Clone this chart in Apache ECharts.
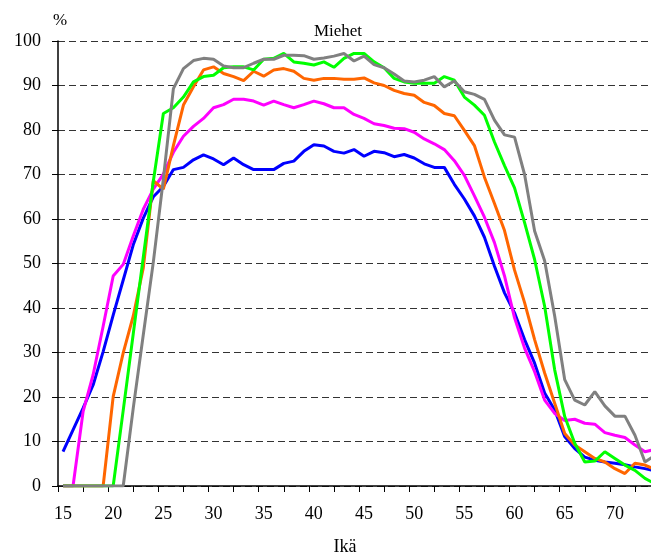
<!DOCTYPE html>
<html>
<head>
<meta charset="utf-8">
<script src="https://cdn.jsdelivr.net/npm/echarts@6/dist/echarts.min.js"></script>
<style>
html,body{margin:0;padding:0;background:#fff;}
#chart{width:651px;height:552px;}
</style>
</head>
<body>
<div id="chart"></div>
<script>
var ages = [];
for (var a = 15; a <= 74; a++) ages.push(a);

var xTickValues = [14.5,17,19.5,22,24.5,27,29.5,32,34.5,37,39.5,42,44.5,47,49.5,52,54.5,57,59.5,62,64.5,67,69.5,72];
var xLabelValues = [15,20,25,30,35,40,45,50,55,60,65,70];

var blue = [7.7,12.6,17.5,22.7,30.2,38.4,46.3,54.2,60.2,65,67.3,71.1,71.6,73.3,74.4,73.5,72.2,73.7,72.2,71.1,71.1,71.1,72.5,73,75.2,76.7,76.4,75.2,74.8,75.6,74.1,75.2,74.9,74,74.5,73.7,72.4,71.6,71.6,67.8,64.5,60.7,55.9,49.4,43.4,38.9,32.9,27.6,20.9,17.1,11.1,8.4,6.5,5.8,5.4,5.1,4.8,4.3,3.9,3.4];
var magenta = [0,0,16.7,25,35.9,47.2,49.8,56.2,62.2,66.7,70.1,75,78.6,80.8,82.6,85,85.7,86.9,86.9,86.5,85.6,86.5,85.7,85,85.7,86.5,85.9,85,85,83.5,82.6,81.4,81,80.4,80.3,79.5,78,76.9,75.6,73.1,69.8,65.2,60.4,54.7,47.2,37.8,31,25.7,19.3,16.3,14.7,15,14.1,13.9,12,11.4,10.9,9.2,7.7,8.2];
var orange = [0,0,0,0,0,20.1,29.9,38.2,49,68.6,66.7,76.5,85.6,89.7,93.5,94.2,92.7,92,91.1,93.2,92.1,93.5,93.8,93.2,91.6,91.2,91.6,91.6,91.4,91.4,91.7,90.6,90,88.9,88.2,87.8,86.2,85.5,83.7,83.2,79.9,76.5,69.4,63.5,57.4,48.5,41.2,32.9,25.4,18.6,11.8,9.2,7.7,6.2,5.4,3.9,2.8,5.1,4.7,3.7];
var green = [0,0,0,0,0,0,17,34.2,51.4,68.5,83.7,85,87.4,90.8,92,92.3,94,94.2,94.2,93.5,95.9,96.1,97.2,95.3,95,94.6,95.3,94.1,96.1,97.2,97.2,95.3,94,91.6,90.8,90.5,90.5,90.5,92,91.2,87.4,85.6,83.3,77.3,72,67,59.2,50.9,40.4,26.1,15.6,9.6,5.4,5.6,7.7,6.2,4.7,3.5,1.7,0.5];
var gray = [0,0,0,0,0,0,0,17.5,34,50.3,69,89.3,93.8,95.6,96.1,95.9,94.4,94,94,95,95.9,95.9,96.8,96.8,96.7,95.9,96.2,96.6,97.2,95.5,96.6,94.7,94,92.6,91,90.8,91.2,92,89.7,91,88.6,88,86.9,82.2,78.9,78.4,70,57.3,50.6,38.2,23.9,19.3,18.2,21.2,18,15.7,15.7,11.4,5.4,6.9];

var seriesDefs = [
  {name:'s1', values: blue, color:'#0000FF'},
  {name:'s2', values: magenta, color:'#FF00FF'},
  {name:'s3', values: orange, color:'#FF6600'},
  {name:'s4', values: green, color:'#00FF00'},
  {name:'s5', values: gray, color:'#808080'}
];

function pairs(vals){
  return ages.map(function(a,i){ return [a, vals[i]]; });
}

var font = '"Liberation Serif", "Times New Roman", serif';
var chart = echarts.init(document.getElementById('chart'), null, {renderer:'canvas'});
chart.setOption({
  animation:false,
  backgroundColor:'#fff',
  grid:{left:58, right:0, top:41, bottom:66, containLabel:false},
  title:[
    {text:'Miehet', left:333, top:18, textAlign:'center', textStyle:{fontFamily:font, fontSize:17, fontWeight:'normal', color:'#000'}},
    {text:'%', left:55, top:7, textAlign:'center', textStyle:{fontFamily:font, fontSize:17, fontWeight:'normal', color:'#000'}},
    {text:'Ikä', left:340, top:533, textAlign:'center', textStyle:{fontFamily:font, fontSize:18, fontWeight:'normal', color:'#000'}}
  ],
  xAxis:{
    type:'value', min:14.5, max:73.6,
    axisLine:{onZero:false, lineStyle:{color:'#000', width:1.5}},
    axisTick:{show:true, length:6, customValues:xTickValues, lineStyle:{color:'#000', width:1}},
    axisLabel:{customValues:xLabelValues, margin:19, fontFamily:font, fontSize:18, color:'#000', showMinLabel:true, showMaxLabel:true, hideOverlap:false},
    splitLine:{show:false}
  },
  yAxis:{
    type:'value', min:0, max:100, interval:10,
    axisLine:{show:true, lineStyle:{color:'#000', width:1.5}},
    axisTick:{show:true, length:6, lineStyle:{color:'#000', width:1}},
    axisLabel:{margin:17, fontFamily:font, fontSize:18, color:'#000'},
    splitLine:{show:true, lineStyle:{color:'#333', width:1, type:[7,4]}}
  },
  series: seriesDefs.map(function(s){
    return {
      name:s.name, type:'line', data:pairs(s.values), symbol:'none',
      lineStyle:{color:s.color, width:3}, itemStyle:{color:s.color},
      clip:true
    };
  })
});
</script>
</body>
</html>
